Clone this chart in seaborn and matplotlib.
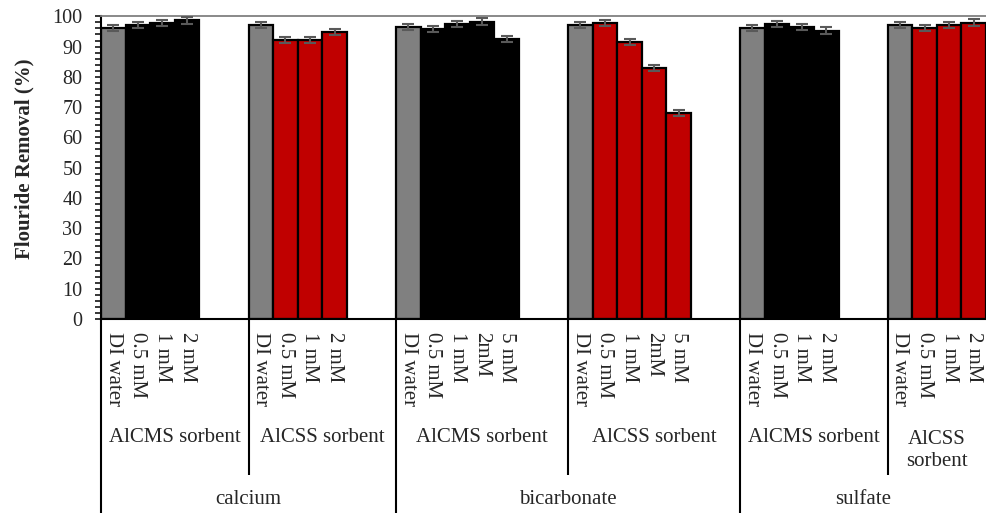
import numpy as np
import pandas as pd
import matplotlib
matplotlib.use("Agg")
import matplotlib.pyplot as plt
import matplotlib.transforms as mtransforms
from matplotlib.ticker import MultipleLocator
import seaborn as sns

# ---- data -------------------------------------------------------------
anions = ["calcium", "bicarbonate", "sulfate"]
sorbents = ["AlCMS sorbent", "AlCSS sorbent"]

calcium_labels = ["DI water", "0.5 mM", "1 mM", "2 mM"]
bicarbonate_labels = ["DI water", "0.5 mM", "1 mM", "2mM", "5 mM"]
sulfate_labels = ["DI water", "0.5 mM", "1 mM", "2 mM"]

calcium_alcms = [96.2, 97.0, 97.7, 98.7]
calcium_alcss = [97.2, 92.1, 92.2, 94.7]
bicarbonate_alcms = [96.4, 95.9, 97.3, 98.2, 92.6]
bicarbonate_alcss = [97.1, 97.7, 91.4, 82.9, 68.0]
sulfate_alcms = [96.2, 97.4, 96.4, 95.3]
sulfate_alcss = [97.1, 96.0, 97.2, 97.9]

calcium_alcms_err = [1.0, 1.0, 1.0, 1.1]
calcium_alcss_err = [1.0, 1.0, 1.0, 1.0]
bicarbonate_alcms_err = [1.0, 1.0, 1.0, 1.1, 1.0]
bicarbonate_alcss_err = [1.0, 1.0, 1.0, 1.1, 1.1]
sulfate_alcms_err = [1.0, 1.1, 1.0, 1.0]
sulfate_alcss_err = [1.0, 1.0, 1.0, 1.1]

groups = [
    ("calcium", "AlCMS sorbent", calcium_labels, calcium_alcms, calcium_alcms_err),
    ("calcium", "AlCSS sorbent", calcium_labels, calcium_alcss, calcium_alcss_err),
    ("bicarbonate", "AlCMS sorbent", bicarbonate_labels, bicarbonate_alcms, bicarbonate_alcms_err),
    ("bicarbonate", "AlCSS sorbent", bicarbonate_labels, bicarbonate_alcss, bicarbonate_alcss_err),
    ("sulfate", "AlCMS sorbent", sulfate_labels, sulfate_alcms, sulfate_alcms_err),
    ("sulfate", "AlCSS\nsorbent", sulfate_labels, sulfate_alcss, sulfate_alcss_err),
]

GRAY, BLACK, RED = "#808080", "#000000", "#C00000"

# ---- build a long table with slot positions (two empty slots between groups)
rows = []
group_spans = []
slot = 0
for anion, sorbent, labels, vals, errs in groups:
    start = slot
    kind = "AlCMS" if sorbent.startswith("AlCMS") else "AlCSS"
    for lab, v, e in zip(labels, vals, errs):
        rows.append(dict(pos=slot, value=v, err=e, label=lab,
                         kind="DI" if lab == "DI water" else kind))
        slot += 1
    group_spans.append((anion, sorbent, start, slot))
    slot += 2
df = pd.DataFrame(rows)
last_slot = df["pos"].max()

# ---- figure -------------------------------------------------------------
sns.set_style("white")
plt.rcParams["font.family"] = ["Liberation Serif", "DejaVu Serif"]

fig = plt.figure(figsize=(9.86, 5.13), dpi=100)
ax = fig.add_axes([101 / 986, 1 - 319 / 513, 885 / 986, (319 - 16.3) / 513])

sns.barplot(data=df, x="pos", y="value", hue="kind",
            palette={"DI": GRAY, "AlCMS": BLACK, "AlCSS": RED},
            saturation=1, native_scale=True, dodge=False, width=1.0,
            edgecolor="black", linewidth=1.6, errorbar=None,
            legend=False, ax=ax, zorder=2)

ax.errorbar(df["pos"], df["value"], yerr=df["err"], fmt="none",
            ecolor="#595959", elinewidth=1.5, capsize=4.3, capthick=1.5,
            zorder=3)

ax.set_xlim(-0.5, last_slot + 0.5)
ax.set_ylim(0, 100)
ax.yaxis.set_major_locator(MultipleLocator(10))
ax.yaxis.set_minor_locator(MultipleLocator(2))
ax.tick_params(axis="y", which="both", direction="out", left=True,
               color="black", width=1.1, labelsize=14.5, pad=9.4)
ax.tick_params(axis="y", which="major", length=4)
ax.tick_params(axis="y", which="minor", length=4)

ax.set_xticks(df["pos"])
ax.set_xticklabels(df["label"], rotation=-90, fontsize=15)
ax.tick_params(axis="x", length=0, pad=9.4)
ax.set_xlabel("")

ax.set_ylabel("Flouride Removal (%)", fontsize=15, fontweight="bold")
ax.yaxis.label.set_verticalalignment("center")
ax.yaxis.set_label_coords(-0.086, 0.528)

for side in ("left", "bottom"):
    ax.spines[side].set_color("black")
    ax.spines[side].set_linewidth(1.5)
ax.spines["top"].set_color("#808080")
ax.spines["top"].set_linewidth(1.3)
ax.spines["right"].set_visible(False)

# ---- grouped category labels and dividers below the axis ----------------
trans = mtransforms.blended_transform_factory(ax.transData, ax.transAxes)
px = 1 / (319 - 16.3)  # one pixel in axes-fraction units (vertical)
y_sorbent = -(438 - 319) * px
y_anion = -(500 - 319) * px
y_div_short = -(475 - 319) * px
y_div_long = -(513 - 319) * px

bounds = []
for i, (anion, sorbent, start, end) in enumerate(group_spans):
    left = start - 0.5
    right = (group_spans[i + 1][2] - 0.5) if i + 1 < len(group_spans) else last_slot + 0.5
    bounds.append((anion, left, right))
    yc = y_sorbent if "\n" not in sorbent else y_sorbent - 12.5 * px
    ax.text((left + right) / 2, yc, sorbent, transform=trans, ha="center",
            va="center", fontsize=15, linespacing=1.15)
    if i > 0:
        is_anion_edge = group_spans[i - 1][0] != anion
        ax.plot([left, left], [0, y_div_long if is_anion_edge else y_div_short],
                transform=trans, color="black", lw=1.5, clip_on=False,
                solid_capstyle="butt")

ax.plot([-0.5, -0.5], [0, y_div_long], transform=trans, color="black",
        lw=1.5, clip_on=False, solid_capstyle="butt")

for anion in anions:
    spans = [(l, r) for a, l, r in bounds if a == anion]
    lo, hi = spans[0][0], spans[-1][1]
    ax.text((lo + hi) / 2, y_anion, anion, transform=trans, ha="center",
            va="center", fontsize=15)

fig.savefig("out.png", dpi=100)
